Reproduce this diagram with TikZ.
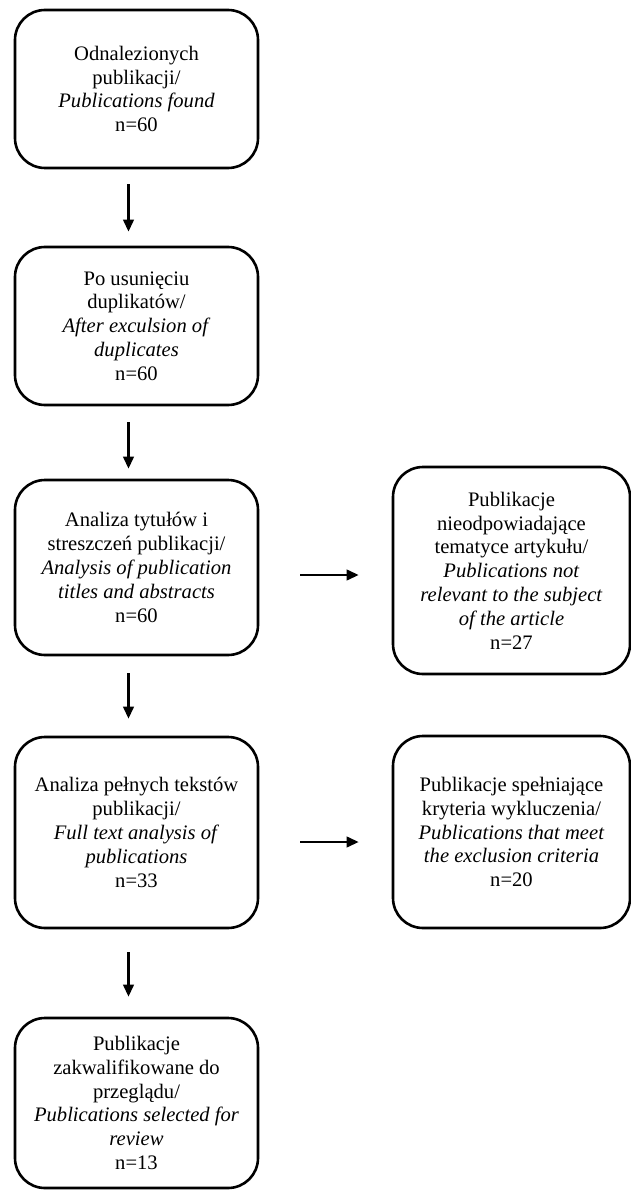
\documentclass[tikz,border=0pt]{standalone}
\usepackage{fontspec}
\setmainfont{Liberation Serif}
\usetikzlibrary{arrows.meta}

\tikzset{every picture/.style={line width=0.75pt}}
\tikzset{
  stage/.style={draw, rounded corners=30, line width=2.6, minimum width=243,
    align=center, inner sep=0, font=\fontsize{20.6}{23.8}\selectfont},
  flow/.style={line width=2.4, -{Triangle[length=12,width=10.5]}}
}

\begin{document}
\begin{tikzpicture}[x=1pt,y=1pt,yscale=-1]
\useasboundingbox (0,0) rectangle (631,1190);
%Left column
\node[stage, minimum height=158] (found) at (136.5,89) {Odnalezionych\\publikacji/\\\textit{Publications found}\\n=60};
\node[stage, minimum height=158] (dedup) at (136.5,326) {Po usunięciu\\duplikatów/\\\textit{After exculsion of}\\\textit{duplicates}\\n=60};
\node[stage, minimum height=175] (screen) at (136.5,567.5) {Analiza tytułów i\\streszczeń publikacji/\\\textit{Analysis of publication}\\\textit{titles and abstracts}\\n=60};
\node[stage, minimum height=191] (fulltext) at (136.5,832.5) {Analiza pełnych tekstów\\publikacji/\\\textit{Full text analysis of}\\\textit{publications}\\n=33};
\node[stage, minimum height=170] (included) at (136.5,1103) {Publikacje\\zakwalifikowane do\\przeglądu/\\\textit{Publications selected for}\\\textit{review}\\n=13};
%Right column
\node[stage, minimum width=237, minimum height=207] (irrelevant) at (511.5,570.5) {Publikacje\\nieodpowiadające\\tematyce artykułu/\\\textit{Publications not}\\\textit{relevant to the subject}\\\textit{of the article}\\n=27};
\node[stage, minimum width=237, minimum height=192] (excluded) at (511.5,832) {Publikacje spełniające\\kryteria wykluczenia/\\\textit{Publications that meet}\\\textit{the exclusion criteria}\\n=20};

%Straight Lines
\draw[flow, shorten <=15, shorten >=14] ([xshift=-8]found.south) -- ([xshift=-8]dedup.north);
\draw[flow, shorten <=16, shorten >=10] ([xshift=-8]dedup.south) -- ([xshift=-8]screen.north);
\draw[flow, shorten <=17, shorten >=17] ([xshift=-8]screen.south) -- ([xshift=-8]fulltext.north);
\draw[flow, shorten <=23, shorten >=20] ([xshift=-8]fulltext.south) -- ([xshift=-8]included.north);
\draw[flow, shorten <=41, shorten >=33] ([yshift=7.5]screen.east) -- ([yshift=7.5]screen.east -| irrelevant.west);
\draw[flow, shorten <=41, shorten >=33] ([yshift=9.5]fulltext.east) -- ([yshift=9.5]fulltext.east -| excluded.west);

\end{tikzpicture}
\end{document}
